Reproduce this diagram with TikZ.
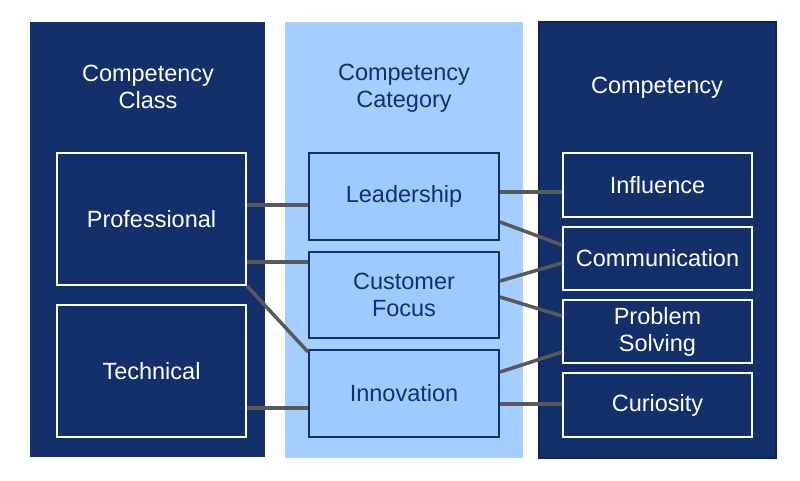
\documentclass[tikz,border=0pt]{standalone}
\usepackage{fontspec}
\setmainfont{Liberation Sans}
\definecolor{navy}{HTML}{13306A}
\definecolor{lightb}{HTML}{A3CEFF}
\definecolor{boxb}{HTML}{9DCBFF}
\definecolor{link}{HTML}{595959}
\begin{document}
\begin{tikzpicture}[x=1pt,y=-1pt,
  darkbox/.style={draw=white,line width=2pt,fill=navy,text=white,inner sep=0pt,font=\fontsize{23.5}{27}\selectfont,align=center},
  lightbox/.style={draw=navy,line width=2pt,fill=boxb,text=navy,inner sep=0pt,font=\fontsize{23.5}{27}\selectfont,align=center},
  head/.style={font=\fontsize{23.5}{27}\selectfont,align=center},
  link/.style={draw=link,line width=3.5pt}]
\useasboundingbox (0,0) rectangle (800,480);
% panels
\fill[navy] (30,22) rectangle (265,457);
\fill[lightb] (285,22) rectangle (523,458);
\draw[fill=navy,draw=navy!80!black,line width=1.5pt] (539,22) rectangle (776,458);
\node[head,text=white] (hclass) at (148,87) {Competency\\Class};
\node[head,text=navy] (hcat) at (404,88) {Competency\\Category};
\node[head,text=white] (hcomp) at (657,88) {Competency};
% class
\node[darkbox,minimum width=189,minimum height=132] (prof) at (151.5,219) {Professional};
\node[darkbox,minimum width=189,minimum height=132] (tech) at (151.5,371) {Technical};
% category
\node[lightbox,minimum width=190,minimum height=87] (lead) at (404,196.5) {Leadership};
\node[lightbox,minimum width=190,minimum height=86] (cust) at (404,295) {Customer\\Focus};
\node[lightbox,minimum width=190,minimum height=87] (innov) at (404,393.5) {Innovation};
% competency
\node[darkbox,minimum width=189,minimum height=64] (infl) at (657.5,185) {Influence};
\node[darkbox,minimum width=189,minimum height=63] (comm) at (657.5,258.5) {Communication};
\node[darkbox,minimum width=189,minimum height=63] (prob) at (657.5,331.5) {Problem\\Solving};
\node[darkbox,minimum width=189,minimum height=64] (curi) at (657.5,405) {Curiosity};
% links
\draw[link] ([yshift=14]prof.east) -- ([yshift=-8.5]lead.west);
\draw[link] ([yshift=-43]prof.east) -- ([yshift=33]cust.west);
\draw[link] (prof.south east) -- ([yshift=-3]innov.north west);
\draw[link] ([yshift=-37]tech.east) -- ([yshift=-14.5]innov.west);
\draw[link] ([yshift=4.5]lead.east) -- ([yshift=-7]infl.west);
\draw[link] ([yshift=-25.5]lead.east) -- ([yshift=13.5]comm.west);
\draw[link] ([yshift=14]cust.east) -- ([yshift=-4.5]comm.west);
\draw[link] ([yshift=-2]cust.east) -- ([yshift=15.5]prob.west);
\draw[link] ([yshift=21.5]innov.east) -- ([yshift=-20.5]prob.west);
\draw[link] ([yshift=-10.5]innov.east) -- ([yshift=1]curi.west);
\end{tikzpicture}
\end{document}
